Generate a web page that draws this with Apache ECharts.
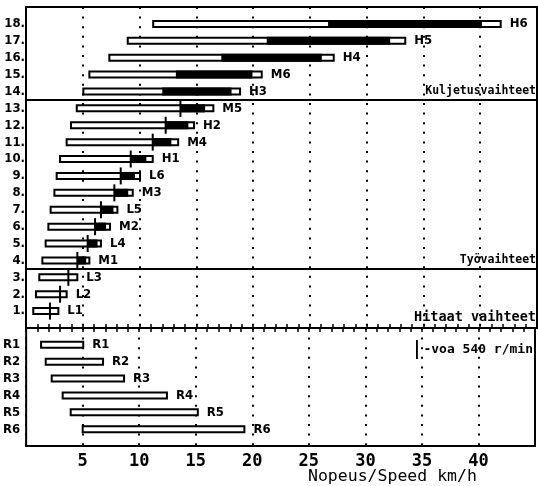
<!DOCTYPE html>
<html><head><meta charset="utf-8">
<script src="https://cdn.jsdelivr.net/npm/echarts@6/dist/echarts.min.js"></script>
<style>html,body{margin:0;padding:0;background:#fff}#c{width:538px;height:486px}</style>
</head><body><div id="c"></div>
<script>
// Forward gears, rows top to bottom
const rowLabels = ['18.','17.','16.','15.','14.','13.','12.','11.','10.','9.','8.','7.','6.','5.','4.','3.','2.','1.'];
const gearNames = ['H6','H5','H4','M6','H3','M5','H2','M4','H1','L6','M3','L5','M2','L4','M1','L3','L2','L1'];
const speedMin  = [11.2, 8.96, 7.34, 5.58, 5.05, 4.47, 3.96, 3.58, 3.0, 2.7, 2.5, 2.17, 1.97, 1.73, 1.44, 1.17, 0.88, 0.64];
const blackStart= [26.6, 21.2, 17.2, 13.2, 12.0, 13.6, 12.3, 11.16, 9.22, 8.34, 7.78, 6.6, 6.08, 5.43, 4.52, null, null, null];
const blackEnd  = [40.15, 32.07, 26.05, 19.94, 18.1, 15.77, 14.3, 12.8, 10.6, 9.6, 9.0, 7.7, 7.05, 6.3, 5.3, null, null, null];
const speedMax  = [41.8, 33.4, 27.1, 20.76, 18.85, 16.5, 14.8, 13.4, 11.16, 10.04, 9.4, 8.05, 7.4, 6.6, 5.58, 4.52, 3.58, 2.85];
const pto540    = [null, null, null, null, null, 13.6, 12.3, 11.16, 9.22, 8.34, 7.78, 6.6, 6.08, 5.43, 4.52, 3.73, 3.0, 2.11];
// Reverse gears
const reverseLabels = ['R1','R2','R3','R4','R5','R6'];
const reverseMin = [1.32, 1.73, 2.26, 3.23, 3.94, 5.0];
const reverseMax = [5.05, 6.8, 8.66, 12.45, 15.18, 19.3];
// Axis
const xTickLabels = [5, 10, 15, 20, 25, 30, 35, 40];
const sectionNames = ['Kuljetusvaihteet', 'Työvaihteet', 'Hitaat vaihteet'];
const legendName = '-voa 540 r/min';
const axisTitle = 'Nopeus/Speed km/h';

const MONO = '"DejaVu Sans Mono", "Liberation Mono", monospace';
const NARROW = '"Liberation Sans Narrow", "DejaVu Sans Condensed", "Liberation Sans", sans-serif';

const chart = echarts.init(document.getElementById('c'), null, {renderer: 'canvas'});

const fwdData = speedMin.map((v, i) => [i + 1, v, blackStart[i] == null ? '-' : blackStart[i], blackEnd[i] == null ? '-' : blackEnd[i], speedMax[i]]);
const revData = reverseMin.map((v, i) => [i + 1, v, '-', '-', reverseMax[i]]);
const ptoData = [];
pto540.forEach((v, i) => { if (v != null) ptoData.push([i + 1, v]); });

function makeBarRenderer(names) {
  return function (params, api) {
    const y = api.value(0);
    const a = api.coord([api.value(1), y]);
    const b = api.coord([api.value(4), y]);
    const h = 6;
    const children = [{
      type: 'rect',
      shape: {x: a[0], y: a[1] - h / 2, width: b[0] - a[0], height: h},
      style: {fill: '#fff', stroke: '#000', lineWidth: 2}
    }];
    const s = api.value(2), e = api.value(3);
    if (isFinite(s) && isFinite(e)) {
      const p = api.coord([s, y]), q = api.coord([e, y]);
      children.push({type: 'rect', shape: {x: p[0], y: p[1] - h / 2 - 1, width: q[0] - p[0], height: h + 2}, style: {fill: '#000'}});
    }
    children.push({
      type: 'text', x: b[0] + 9, y: b[1],
      style: {text: names[params.dataIndex], fill: '#000', fontSize: 13, fontWeight: 'bold', fontFamily: NARROW, verticalAlign: 'middle', align: 'left'}
    });
    return {type: 'group', children: children};
  };
}

function markerRenderer(params, api) {
  const p = api.coord([api.value(1), api.value(0)]);
  return {type: 'line', shape: {x1: p[0], y1: p[1] - 8.5, x2: p[0], y2: p[1] + 8.5}, style: {stroke: '#000', lineWidth: 2}};
}

const dotted = {show: true, lineStyle: {color: '#000', type: [2, 7.6], width: 2}};

const option = {
  backgroundColor: '#fff',
  animation: false,
  title: {
    text: axisTitle, left: 303, top: 463,
    textStyle: {fontFamily: MONO, fontSize: 16.5, fontWeight: 'normal', color: '#000'}
  },
  legend: {
    data: [{name: legendName, icon: 'path://M0,0H1V10H0Z'}],
    right: 0, top: 335, itemWidth: 3, itemHeight: 19, selectedMode: false,
    textStyle: {fontFamily: MONO, fontSize: 13, fontWeight: 'bold', color: '#000'}
  },
  grid: [
    {left: 26, right: 1, top: 7, bottom: 158, show: true, borderColor: '#000', borderWidth: 2, backgroundColor: 'transparent'},
    {left: 26, right: 1, top: 328, bottom: 40, show: true, borderColor: '#000', borderWidth: 2, backgroundColor: 'transparent'}
  ],
  xAxis: [
    {gridIndex: 0, type: 'value', min: 0, max: 45, interval: 5, position: 'bottom',
     axisLine: {show: true, onZero: false, lineStyle: {color: '#000', width: 2}},
     axisTick: {show: true, inside: true, length: 4, lineStyle: {color: '#000', width: 1.5}},
     minorTick: {show: true, splitNumber: 5, length: 4, lineStyle: {color: '#000', width: 1.5}},
     axisLabel: {show: false}, splitLine: dotted},
    {gridIndex: 1, type: 'value', min: 0, max: 45, interval: 5, position: 'top',
     axisLine: {show: true, onZero: false, lineStyle: {color: '#000', width: 2}},
     axisTick: {show: true, inside: true, length: 4, lineStyle: {color: '#000', width: 1.5}},
     minorTick: {show: true, splitNumber: 5, length: 4, lineStyle: {color: '#000', width: 1.5}},
     axisLabel: {show: false}, splitLine: {show: false}},
    {gridIndex: 1, type: 'value', min: 0, max: 45, interval: 5, position: 'bottom',
     axisLine: {show: true, onZero: false, lineStyle: {color: '#000', width: 2}},
     axisTick: {show: false},
     axisLabel: {show: true, margin: 7, color: '#000', fontFamily: MONO, fontSize: 17, fontWeight: 'bold',
       formatter: v => xTickLabels.indexOf(v) >= 0 ? String(v) : ''},
     splitLine: dotted}
  ],
  yAxis: [
    {gridIndex: 0, type: 'value', inverse: true, min: 0, max: 19, interval: 1,
     axisLine: {show: false, onZero: false}, axisTick: {show: false}, splitLine: {show: false},
     axisLabel: {margin: 1, color: '#000', fontFamily: NARROW, fontSize: 13, fontWeight: 'bold',
       formatter: v => rowLabels[v - 1] || ''}},
    {gridIndex: 1, type: 'value', inverse: true, min: 0, max: 7, interval: 1,
     axisLine: {show: false, onZero: false}, axisTick: {show: false}, splitLine: {show: false},
     axisLabel: {margin: 6, color: '#000', fontFamily: NARROW, fontSize: 13, fontWeight: 'bold',
       formatter: v => reverseLabels[v - 1] || ''}}
  ],
  series: [
    {type: 'line', xAxisIndex: 0, yAxisIndex: 0, data: [], silent: true,
     markLine: {
       silent: true, symbol: 'none', animation: false,
       lineStyle: {color: '#000', type: 'solid', width: 2},
       label: {position: 'insideEndTop', distance: [1, 3], color: '#000', fontFamily: MONO, fontSize: 11.5, fontWeight: 'bold'},
       data: [
         {yAxis: 5.5, label: {formatter: sectionNames[0]}},
         {yAxis: 15.5, label: {formatter: sectionNames[1]}},
         {yAxis: 19, label: {formatter: sectionNames[2], fontSize: 13.5, distance: [1, 4]}}
       ]
     }},
    {type: 'custom', name: 'forward', xAxisIndex: 0, yAxisIndex: 0, data: fwdData,
     encode: {x: [1, 4], y: 0}, renderItem: makeBarRenderer(gearNames), itemStyle: {color: '#000'}, z: 3},
    {type: 'custom', name: legendName, xAxisIndex: 0, yAxisIndex: 0, data: ptoData,
     encode: {x: 1, y: 0}, renderItem: markerRenderer, itemStyle: {color: '#000'}, z: 4},
    {type: 'custom', name: 'reverse', xAxisIndex: 2, yAxisIndex: 1, data: revData,
     encode: {x: [1, 4], y: 0}, renderItem: makeBarRenderer(reverseLabels), itemStyle: {color: '#000'}, z: 3}
  ]
};
chart.setOption(option);
</script>
</body></html>
